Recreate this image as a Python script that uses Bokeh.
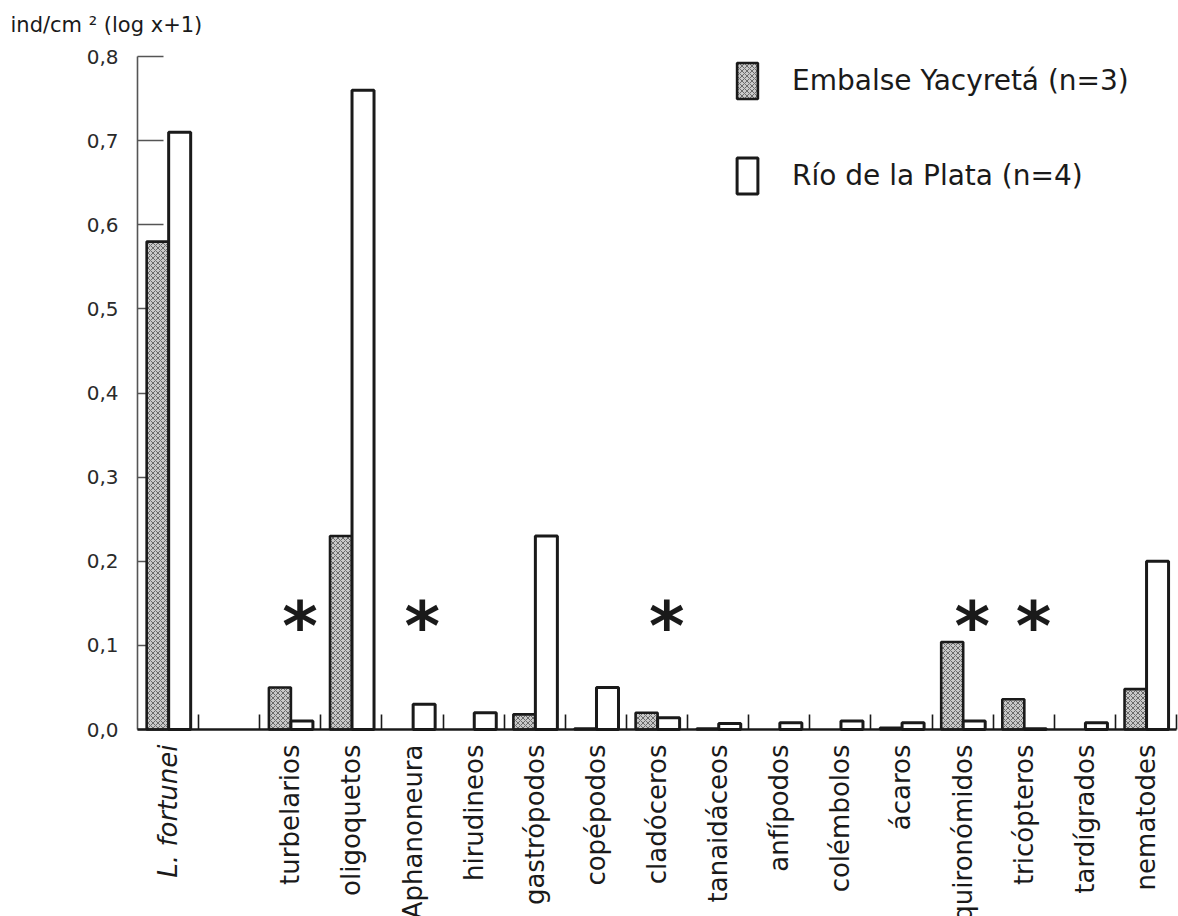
import math
from bokeh.plotting import figure
from bokeh.models import (ColumnDataSource, Range1d, FixedTicker, CustomJSTickFormatter,
                          LabelSet, Label)
from bokeh.transform import dodge
from bokeh.core.properties import value
from bokeh.embed import file_html
from bokeh.resources import INLINE

# ---------------- data ----------------
categories = ["L. fortunei", "", "turbelarios", "oligoquetos", "Aphanoneura", "hirudineos",
              "gastrópodos", "copépodos", "cladóceros", "tanaidáceos", "anfípodos",
              "colémbolos", "ácaros", "quironómidos", "tricópteros", "tardígrados", "nematodes"]
yacyreta = [0.58, None, 0.05, 0.23, 0, 0, 0.018, 0.001, 0.02, 0.001, 0, 0, 0.002,
            0.104, 0.036, 0, 0.048]
plata = [0.71, None, 0.01, 0.76, 0.03, 0.02, 0.23, 0.05, 0.014, 0.007, 0.008, 0.01,
         0.008, 0.01, 0.001, 0.008, 0.2]
significant = ["turbelarios", "Aphanoneura", "cladóceros", "quironómidos", "tricópteros"]
star_level = 0.123
y_ticks = [0.0, 0.1, 0.2, 0.3, 0.4, 0.5, 0.6, 0.7, 0.8]
y_max = 0.8
y_title = "ind/cm \u00b2 (log x+1)"
series_names = ["Embalse Yacyretá (n=3)", "Río de la Plata (n=4)"]
italic_category = "L. fortunei"

FONT = "DejaVu Sans"
INK = "#1a1a1a"

# ---------------- layout (pixels) ----------------
W, H = 1178, 916
AX_LEFT, AX_RIGHT = 137, 1176     # x pixel of axis start / end
AX_BOTTOM, AX_TOP = 729, 56       # y pixel of value 0 / y_max

n = len(categories)
ux = (AX_RIGHT - AX_LEFT) / n
uy = (AX_BOTTOM - AX_TOP) / y_max
x_start = -0.5 - AX_LEFT / ux
x_end = n - 0.5 + (W - AX_RIGHT) / ux
y_end = y_max + AX_TOP / uy
y_start = -(H - AX_BOTTOM) / uy


def clean(vals):
    return [float("nan") if (v is None or v == 0) else v for v in vals]


xs = list(range(n))
src = ColumnDataSource(dict(x=xs, yac=clean(yacyreta), pla=clean(plata)))

p = figure(width=W, height=H,
           x_range=Range1d(x_start, x_end), y_range=Range1d(y_start, y_end),
           output_backend="svg", toolbar_location=None, min_border=0)
p.outline_line_color = None
p.xgrid.visible = False
p.ygrid.visible = False
p.background_fill_color = "white"
p.border_fill_color = "white"

# bars
r1 = p.vbar(x=dodge("x", -0.17, range=p.x_range), top="yac", bottom=0, width=0.36, source=src,
            fill_color="#c8c8c8", hatch_pattern="diagonal_cross", hatch_color="#6a6a6a",
            hatch_scale=5, hatch_weight=1.0, line_color=INK, line_width=2.6,
            legend_label=series_names[0])
r2 = p.vbar(x=dodge("x", 0.19, range=p.x_range), top="pla", bottom=0, width=0.36, source=src,
            fill_color="white", line_color=INK, line_width=3,
            legend_label=series_names[1])

# significance asterisks
star_src = ColumnDataSource(dict(x=[categories.index(c) for c in significant],
                                 y=[star_level] * len(significant),
                                 t=["*"] * len(significant)))
p.text(x=dodge("x", 0.16, range=p.x_range), y="y", text="t", source=star_src,
       text_font=value(FONT), text_font_style="bold", text_font_size="68px",
       text_align="center", text_baseline="alphabetic", text_color=INK)

# x axis at value 0 with boundary ticks only
xa = p.xaxis[0]
xa.fixed_location = 0
xa.bounds = (-0.5, n - 0.5)
xa.ticker = FixedTicker(ticks=[], minor_ticks=[i + 0.5 for i in range(n)])
xa.major_tick_line_color = None
xa.minor_tick_in = 15
xa.minor_tick_out = 0
xa.minor_tick_line_color = INK
xa.minor_tick_line_width = 1.6
xa.axis_line_color = INK
xa.axis_line_width = 2.5
xa.major_label_text_font_size = "0px"

# y axis
ya = p.yaxis[0]
ya.fixed_location = -0.5
ya.bounds = (0, y_max)
ya.ticker = FixedTicker(ticks=y_ticks)
ya.formatter = CustomJSTickFormatter(code="return tick.toFixed(1).replace('.', ',');")
ya.major_tick_in = 26
ya.major_tick_out = 0
ya.minor_tick_line_color = None
ya.major_tick_line_color = "#555555"
ya.major_tick_line_width = 1.6
ya.axis_line_color = "#555555"
ya.axis_line_width = 1.6
ya.major_label_text_font = FONT
ya.major_label_text_font_size = "20px"
ya.major_label_text_color = "#2a2a2a"
ya.major_label_standoff = 19
ya.level = "underlay"

# category labels (rotated)
lab_idx = [i for i, c in enumerate(categories) if c and c != italic_category]
lab_src = ColumnDataSource(dict(x=lab_idx, y=[0] * len(lab_idx),
                                t=[categories[i] for i in lab_idx]))
p.add_layout(LabelSet(x="x", y="y", text="t", source=lab_src, y_offset=-15,
                      angle=math.pi / 2, text_align="right", text_baseline="middle",
                      text_font=value(FONT), text_font_size="26px", text_color=INK))
p.add_layout(Label(x=categories.index(italic_category), y=0, y_offset=-15,
                   text=italic_category, angle=math.pi / 2, text_align="right",
                   text_baseline="middle", text_font=FONT, text_font_style="italic",
                   text_font_size="26px", text_color=INK))

# y title at top-left
p.add_layout(Label(x=-0.5, y=y_max, x_offset=-127, y_offset=32, text=y_title,
                   text_align="left", text_baseline="middle", text_font=FONT,
                   text_font_size="21px", text_color=INK))

# legend
lg = p.legend[0]
lg.location = (734, 718)
lg.glyph_width = 26
lg.glyph_height = 45
lg.label_standoff = 32
lg.spacing = 50
lg.padding = 0
lg.margin = 0
lg.border_line_color = None
lg.background_fill_alpha = 0
lg.label_text_font = FONT
lg.label_text_font_size = "28px"
lg.label_text_color = INK

open("out.html", "w").write(file_html(p, INLINE))
